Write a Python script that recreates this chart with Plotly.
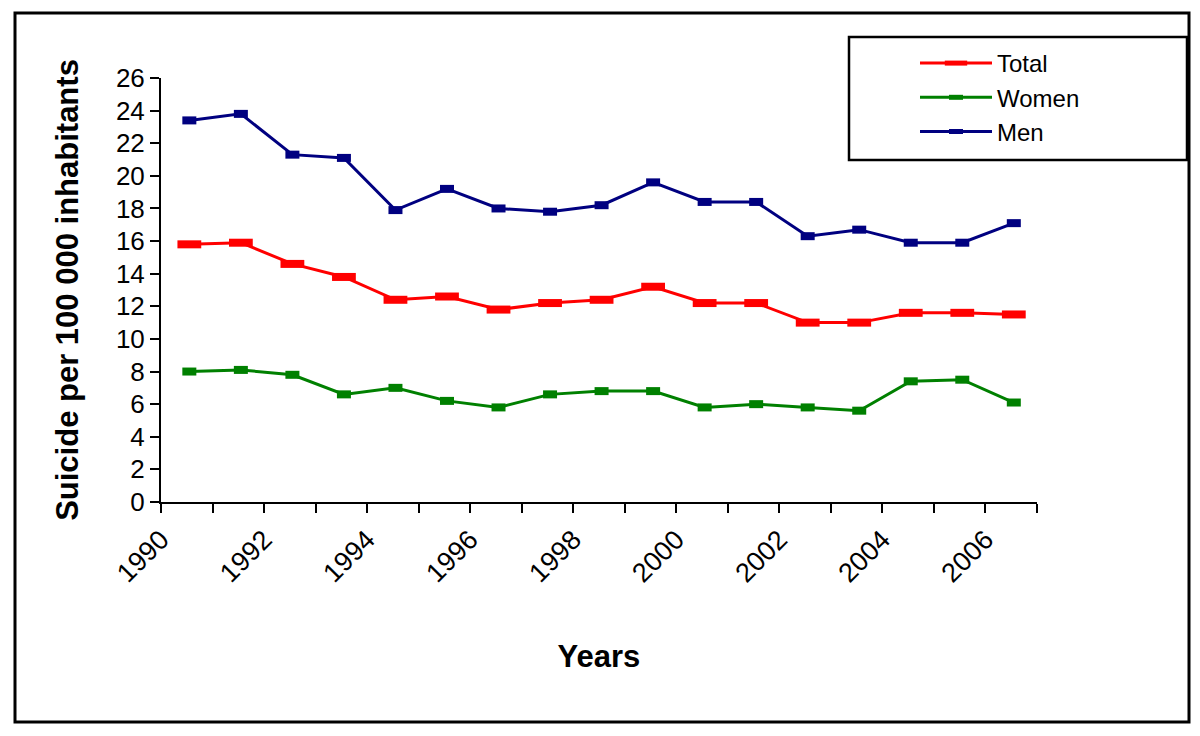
import plotly.graph_objects as go

years = list(range(1990, 2007))
total = [15.8, 15.9, 14.6, 13.8, 12.4, 12.6, 11.8, 12.2, 12.4, 13.2, 12.2, 12.2, 11.0, 11.0, 11.6, 11.6, 11.5]
women = [8.0, 8.1, 7.8, 6.6, 7.0, 6.2, 5.8, 6.6, 6.8, 6.8, 5.8, 6.0, 5.8, 5.6, 7.4, 7.5, 6.1]
men = [23.4, 23.8, 21.3, 21.1, 17.9, 19.2, 18.0, 17.8, 18.2, 19.6, 18.4, 18.4, 16.3, 16.7, 15.9, 15.9, 17.1]
tick_years = list(range(1990, 2007, 2))

FONT = "Arial, Liberation Sans, sans-serif"
W, H = 1200, 736
L, R, T, B = 161, 1037, 78, 502  # plot area in pixels

def px_x(px):
    return (px - L) / (R - L)

def px_y(py):
    return (B - py) / (B - T)

xs = [y + 0.55 for y in years]

fig = go.Figure()
series = [("Total", total, "#FF0000", 17), ("Women", women, "#008000", 10), ("Men", men, "#000080", 10)]
for name, vals, col, msize in series:
    fig.add_trace(go.Scatter(
        x=xs, y=vals, name=name, mode="lines+markers",
        line=dict(color=col, width=3),
        marker=dict(symbol="line-ew", size=msize, color=col, line=dict(color=col, width=8)),
    ))

# outer frame
fig.add_shape(type="rect", xref="paper", yref="paper",
              x0=px_x(15), x1=px_x(1189), y0=px_y(722), y1=px_y(13),
              line=dict(color="black", width=3), layer="below")
# legend frame
fig.add_shape(type="rect", xref="paper", yref="paper",
              x0=px_x(849), x1=px_x(1187), y0=px_y(160), y1=px_y(37),
              line=dict(color="black", width=2.5))

fig.update_layout(
    width=W, height=H,
    margin=dict(l=L, r=W - R, t=T, b=H - B),
    paper_bgcolor="white", plot_bgcolor="white",
    font=dict(family=FONT, color="black"),
    showlegend=True,
    legend=dict(x=px_x(915), y=px_y(41), xanchor="left", yanchor="top",
                bgcolor="rgba(0,0,0,0)", borderwidth=0,
                font=dict(size=24, family=FONT), itemwidth=72, tracegroupgap=0),
    xaxis=dict(range=[1990, 2007], tickvals=tick_years, ticktext=[str(t) for t in tick_years],
               tickangle=-45, ticks="outside", ticklen=9, tickwidth=2, tickcolor="black",
               minor=dict(dtick=1, tick0=1990, ticks="outside", ticklen=9, tickwidth=2, tickcolor="black"),
               showline=True, linecolor="black", linewidth=2, showgrid=False, zeroline=False,
               tickfont=dict(size=27, family=FONT),
               title=dict(text="<b>Years</b>", font=dict(size=31, family=FONT), standoff=58)),
    yaxis=dict(range=[0, 26], dtick=2, tick0=0, ticks="outside", ticklen=9, tickwidth=2, tickcolor="black",
               showline=True, linecolor="black", linewidth=2, showgrid=False, zeroline=False,
               tickfont=dict(size=26, family=FONT),
               title=dict(text="<b>Suicide per 100 000 inhabitants</b>", font=dict(size=31, family=FONT), standoff=28)),
)

fig.write_html("out.html", post_script="document.body.style.margin='0px';",
               config={"displayModeBar": False})
